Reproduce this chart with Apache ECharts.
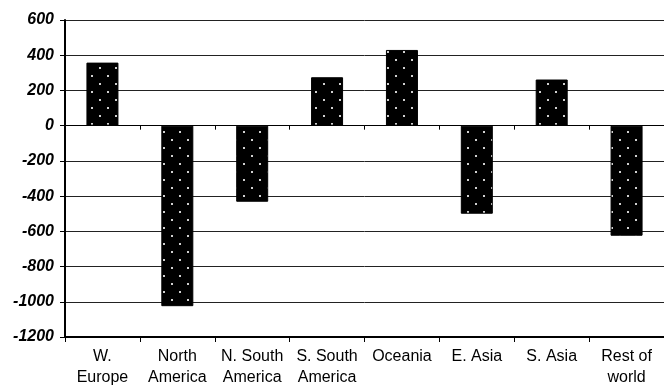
<!DOCTYPE html>
<html>
<head>
<meta charset="utf-8">
<script src="https://cdn.jsdelivr.net/npm/echarts@6/dist/echarts.min.js"></script>
<style>html,body{margin:0;padding:0;background:#fff}#c{width:664px;height:388px}</style>
</head>
<body>
<div id="c"></div>
<script>
var categories = ['W.\nEurope', 'North\nAmerica', 'N. South\nAmerica', 'S. South\nAmerica', 'Oceania', 'E. Asia', 'S. Asia', 'Rest of\nworld'];
var values = [358, -1025, -432, 275, 430, -500, 262, -625];
var yTicks = { min: -1200, max: 600, interval: 200 };

var pat = document.createElement('canvas');
pat.width = 16; pat.height = 16;
var g = pat.getContext('2d');
g.fillStyle = '#000'; g.fillRect(0, 0, 16, 16);
g.fillStyle = '#d0d0d0';
g.fillRect(3, 3, 2, 2);
g.fillRect(11, 11, 2, 2);

var chart = echarts.init(document.getElementById('c'), null, { renderer: 'canvas' });
chart.setOption({
  animation: false,
  backgroundColor: '#fff',
  grid: { left: 65, top: 20, width: 606, height: 320, containLabel: false },
  xAxis: [{
    type: 'category', data: categories, position: 'bottom',
    axisLine: { onZero: false, lineStyle: { color: '#000', width: 2 } },
    axisTick: { show: true, length: 5, lineStyle: { color: '#000' } },
    axisLabel: { interval: 0, color: '#000', fontFamily: 'Liberation Sans, Arial', fontSize: 16, lineHeight: 21, margin: 9 },
    splitLine: { show: false }
  }, {
    type: 'category', data: categories, position: 'bottom',
    axisLine: { onZero: true, lineStyle: { color: '#000', width: 1 } },
    axisTick: { show: true, length: 4, lineStyle: { color: '#000' } },
    axisLabel: { show: false },
    splitLine: { show: false }
  }],
  yAxis: {
    type: 'value', min: yTicks.min, max: yTicks.max, interval: yTicks.interval,
    axisLine: { show: true, lineStyle: { color: '#000', width: 2 } },
    axisTick: { show: true, length: 5, lineStyle: { color: '#000' } },
    axisLabel: { color: '#000', fontFamily: 'Liberation Sans, Arial', fontSize: 16, fontWeight: 'bold', fontStyle: 'italic', margin: 11,
      formatter: function (v) { return String(v); } },
    splitLine: { show: true, lineStyle: { color: '#222', width: 1 } }
  },
  series: [{
    type: 'bar', data: values, xAxisIndex: 0,
    barWidth: 32,
    itemStyle: { color: { image: pat, repeat: 'repeat' }, borderColor: '#000', borderWidth: 1 }
  }]
});
</script>
</body>
</html>
